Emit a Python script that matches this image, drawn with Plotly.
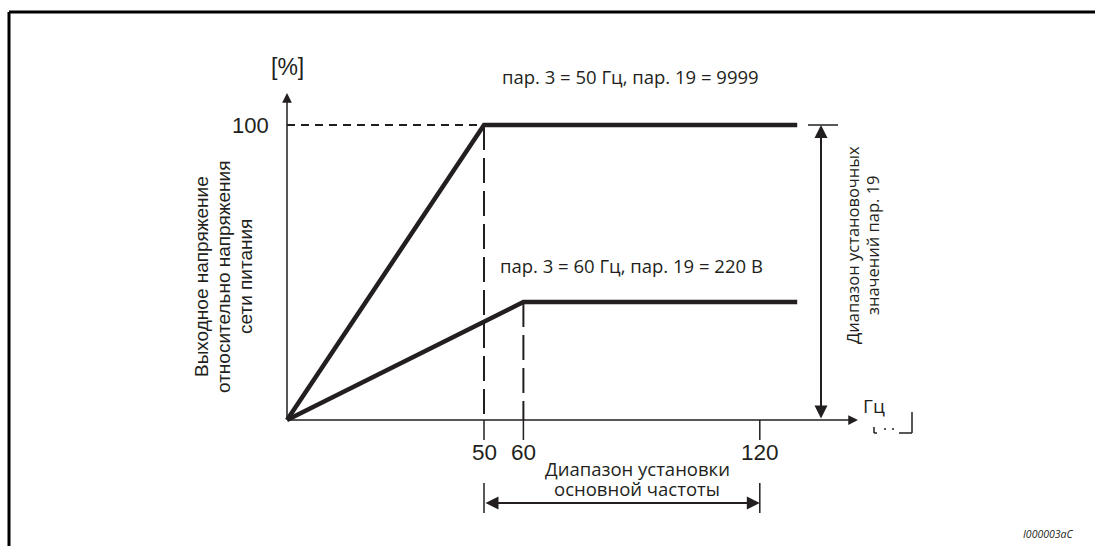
import plotly.graph_objects as go

# ---- data ----
freq_50 = [0, 50, 129.5]
volt_50 = [0, 100, 100]
freq_60 = [0, 60, 129.5]
volt_60 = [0, 40, 40]
tick_vals = [50, 60, 120]
tick_text = ["50", "60", "120"]
y_tick_val = 100
y_tick_text = "100"
label_top = "пар. 3 = 50 Гц, пар. 19 = 9999"
label_low = "пар. 3 = 60 Гц, пар. 19 = 220 В"
y_title_lines = ["Выходное напряжение", "относительно напряжения", "сети питания"]
right_lines = ["Диапазон установочных", "значений пар. 19"]
bottom_lines = ["Диапазон установки", "основной частоты"]
range_x = [50, 120]
range_y = [0, 100]
x_unit = "Гц"
y_unit = "[%]"
code_text = "I000003aC"

# ---- layout geometry (pixels) ----
W, H = 1095, 546
X0PX, XS = 287, 3.94
Y0PX, YS = 420, 2.95

def dx(px):
    return (px - X0PX) / XS

def dy(py):
    return (Y0PX - py) / YS

INK = "#231f20"
SANS = "Liberation Sans, Arial, sans-serif"
MYR = "Open Sans, Noto Sans, sans-serif"

fig = go.Figure()

# main curves
fig.add_trace(go.Scatter(x=freq_50, y=volt_50, mode="lines",
                         line=dict(color=INK, width=4.5), hoverinfo="skip"))
fig.add_trace(go.Scatter(x=freq_60, y=volt_60, mode="lines",
                         line=dict(color=INK, width=4.5), hoverinfo="skip"))

# dashed guide lines
fig.add_trace(go.Scatter(x=[0, freq_50[1]], y=[volt_50[1], volt_50[1]], mode="lines",
                         line=dict(color=INK, width=2, dash="8px,6px"), hoverinfo="skip"))
fig.add_trace(go.Scatter(x=[freq_50[1], freq_50[1]], y=[volt_50[1], 0], mode="lines",
                         line=dict(color=INK, width=2, dash="25px,8px"), hoverinfo="skip"))
fig.add_trace(go.Scatter(x=[freq_60[1], freq_60[1]], y=[volt_60[1], 0], mode="lines",
                         line=dict(color=INK, width=2, dash="25px,8px"), hoverinfo="skip"))

shapes = []
# tick marks
for tv in tick_vals:
    shapes.append(dict(type="line", xref="x", yref="y", x0=tv, x1=tv, y0=0, y1=dy(440),
                       line=dict(color=INK, width=1.5)))
# right cap
shapes.append(dict(type="line", xref="x", yref="y", x0=dx(808), x1=dx(838), y0=range_y[1], y1=range_y[1],
                   line=dict(color=INK, width=1.5)))
# bottom range bars
for xv in range_x:
    shapes.append(dict(type="line", xref="x", yref="y", x0=xv, x1=xv, y0=dy(483), y1=dy(513),
                       line=dict(color=INK, width=1.5)))
# partial bracket under unit
shapes.append(dict(type="line", xref="x", yref="y", x0=dx(912), x1=dx(912), y0=dy(412), y1=dy(433),
                   line=dict(color=INK, width=1.5)))
shapes.append(dict(type="line", xref="x", yref="y", x0=dx(899), x1=dx(912), y0=dy(433), y1=dy(433),
                   line=dict(color=INK, width=1.5)))
shapes.append(dict(type="line", xref="x", yref="y", x0=dx(874), x1=dx(874), y0=dy(427), y1=dy(433),
                   line=dict(color=INK, width=1.5)))
shapes.append(dict(type="line", xref="x", yref="y", x0=dx(874), x1=dx(877), y0=dy(433), y1=dy(433),
                   line=dict(color=INK, width=1.5)))
shapes.append(dict(type="line", xref="x", yref="y", x0=dx(884), x1=dx(886), y0=dy(429), y1=dy(429),
                   line=dict(color=INK, width=1.5)))
shapes.append(dict(type="line", xref="x", yref="y", x0=dx(892), x1=dx(894), y0=dy(429), y1=dy(429),
                   line=dict(color=INK, width=1.5)))
# frame (top and left)
shapes.append(dict(type="line", xref="paper", yref="paper", x0=9 / W, x1=1, y0=1 - 12 / H, y1=1 - 12 / H,
                   line=dict(color="black", width=3)))
shapes.append(dict(type="line", xref="paper", yref="paper", x0=9 / W, x1=9 / W, y0=0, y1=1 - 12 / H,
                   line=dict(color="black", width=3)))

ann = []
def arrow(x, y, ax, ay, both=False, width=1.5):
    ann.append(dict(x=x, y=y, ax=ax, ay=ay, xref="x", yref="y", axref="x", ayref="y",
                    text="", showarrow=True, arrowhead=2, arrowsize=1.3, arrowwidth=width,
                    arrowcolor=INK, arrowside="end+start" if both else "end",
                    standoff=0, startstandoff=0))

# axes
arrow(0, dy(93), 0, 0)
arrow(dx(858), 0, 0, 0)
# range arrows
arrow(dx(821), range_y[1], dx(821), range_y[0], both=True, width=2)
arrow(range_x[1], dy(503), range_x[0], dy(503), both=True, width=2)

def text(t, x, y, size, font=SANS, xanchor="center", angle=0, italic=False):
    ann.append(dict(x=x, y=y, xref="x", yref="y", text=t, showarrow=False,
                    xanchor=xanchor, yanchor="middle", textangle=angle,
                    font=dict(family=font, size=size, color=INK,
                              style="italic" if italic else "normal")))

text(y_unit, 0, dy(67), 23)
text(y_tick_text, dx(271), y_tick_val, 22, xanchor="right")
for tv, tt in zip(tick_vals, tick_text):
    text(tt, tv, dy(452), 22.5)
text(x_unit, dx(874), dy(406), 19, font=MYR)
text(label_top, dx(630), dy(76), 18.5, font=MYR)
text(label_low, dx(631), dy(265), 18.5, font=MYR)
for i, line in enumerate(bottom_lines):
    text(line, dx(637), dy(468 + 20 * i), 18.5, font=MYR)
for i, line in enumerate(right_lines):
    text(line, dx(852 + 20 * i), dy(245), 16.5, font=MYR, angle=-90)
for i, line in enumerate(y_title_lines):
    text(line, dx(201 + 22 * i), dy(277), 19, angle=-90)
text(code_text, dx(1048), dy(534), 10.5, font=MYR, italic=True)

fig.update_layout(
    width=W, height=H,
    margin=dict(l=0, r=0, t=0, b=0),
    paper_bgcolor="white", plot_bgcolor="white",
    showlegend=False,
    xaxis=dict(range=[dx(0), dx(W)], visible=False, fixedrange=True),
    yaxis=dict(range=[dy(H), dy(0)], visible=False, fixedrange=True),
    shapes=shapes, annotations=ann,
)

fig.write_html("out.html", config={"displayModeBar": False},
               post_script="document.body.style.margin='0';")
